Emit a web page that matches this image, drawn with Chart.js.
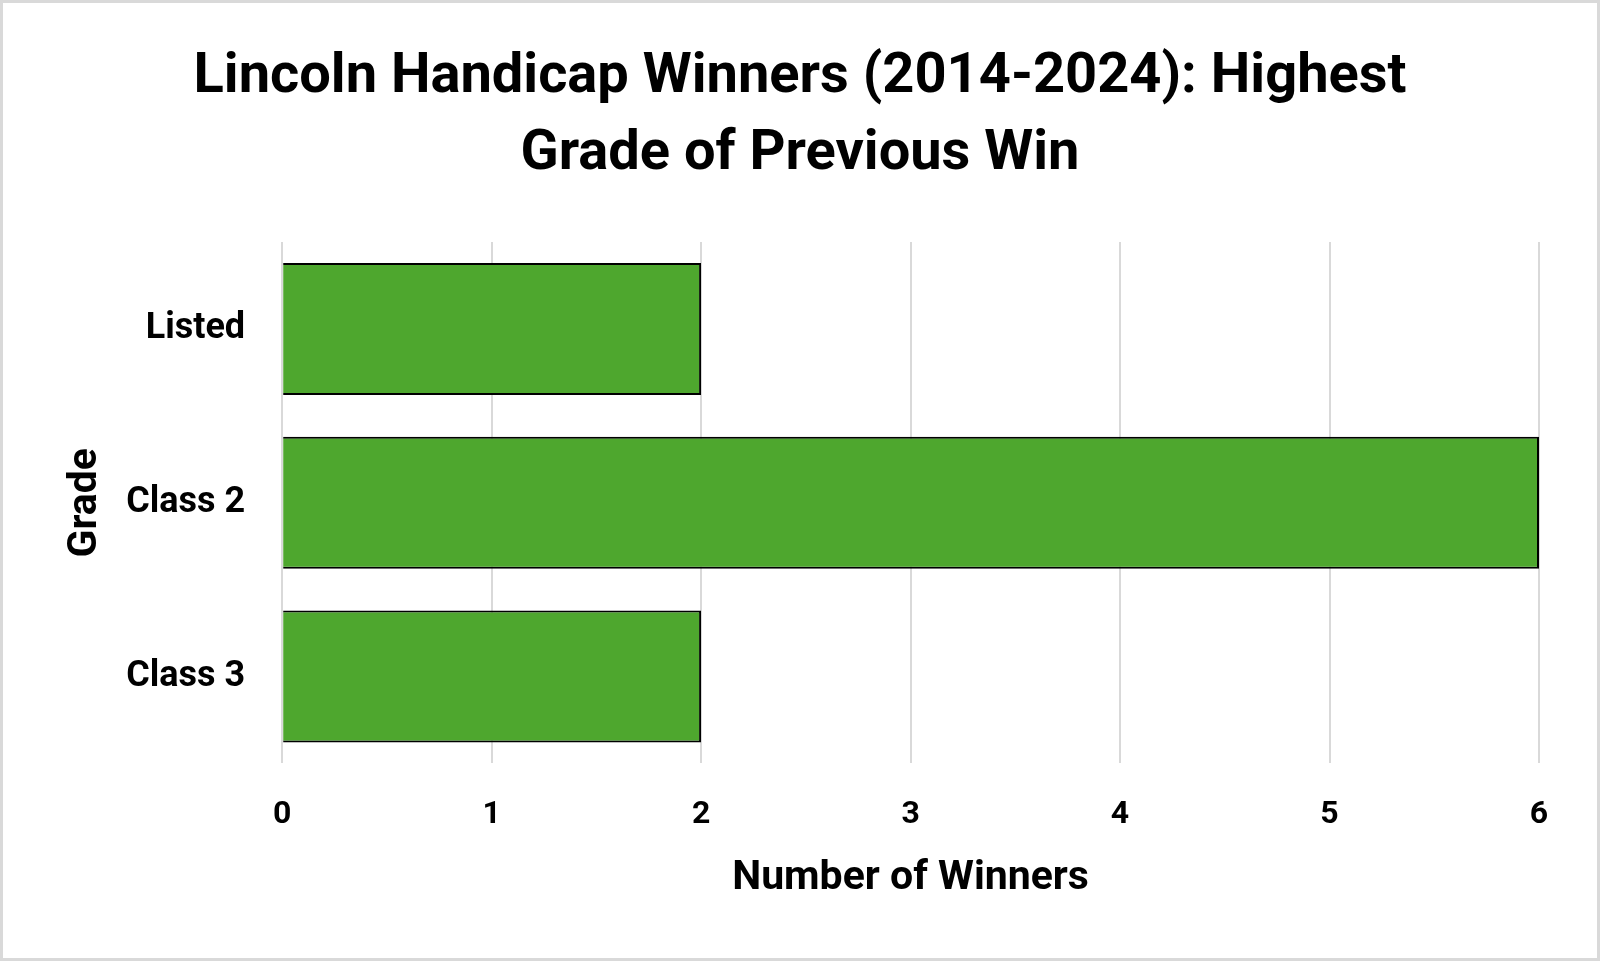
<!DOCTYPE html>
<html>
<head>
<meta charset="utf-8">
<script src="https://cdn.jsdelivr.net/npm/chart.js@4.4.1/dist/chart.umd.min.js"></script>
<style>
  html, body { margin: 0; padding: 0; background: #fff; }
  #wrap { width: 1600px; height: 961px; box-sizing: border-box; border: 3px solid #d9d9d9; }
</style>
</head>
<body>
<div id="wrap"><canvas id="chart" width="1594" height="955"></canvas></div>
<script>
// chart data
const grades = ['Listed', 'Class 2', 'Class 3'];
const winners = [2, 6, 2];
const titleLines = ['Lincoln Handicap Winners (2014-2024): Highest', 'Grade of Previous Win'];

const ctx = document.getElementById('chart').getContext('2d');
new Chart(ctx, {
    type: 'bar',
    data: {
        labels: grades,
        datasets: [{
            label: 'Number of Winners',
            data: winners,
            backgroundColor: '#4ea72e',
            borderColor: '#000000',
            borderWidth: 2,
            barPercentage: 0.76,
            categoryPercentage: 1.0
        }]
    },
    options: {
        indexAxis: 'y',
        responsive: false,
        animation: false,
        layout: { padding: { left: 58, right: 58, top: 36, bottom: 55 } },
        plugins: {
            legend: { display: false },
            tooltip: { enabled: false },
            title: {
                display: true,
                text: titleLines,
                color: '#000',
                font: { family: 'Roboto', size: 56, weight: 'bold', lineHeight: 1.38 },
                padding: { top: 0, bottom: 48.5 }
            }
        },
        scales: {
            x: {
                min: 0,
                max: 6,
                ticks: {
                    stepSize: 1,
                    color: '#000',
                    font: { family: 'Roboto', size: 32, weight: 'bold' },
                    padding: 32
                },
                grid: { color: '#d9d9d9', lineWidth: 2, tickLength: 0, drawTicks: false },
                border: { display: false },
                title: {
                    display: true,
                    text: 'Number of Winners',
                    color: '#000',
                    font: { family: 'Roboto', size: 41, weight: 'bold' },
                    padding: { top: -12, bottom: 0 }
                }
            },
            y: {
                ticks: {
                    color: '#000',
                    font: { family: 'Roboto', size: 36, weight: 'bold' },
                    padding: 29
                },
                grid: { display: false },
                border: { display: false },
                title: {
                    display: true,
                    text: 'Grade',
                    color: '#000',
                    font: { family: 'Roboto', size: 41, weight: 'bold' },
                    padding: { top: 0, bottom: -13 }
                }
            }
        }
    }
});
</script>
</body>
</html>
